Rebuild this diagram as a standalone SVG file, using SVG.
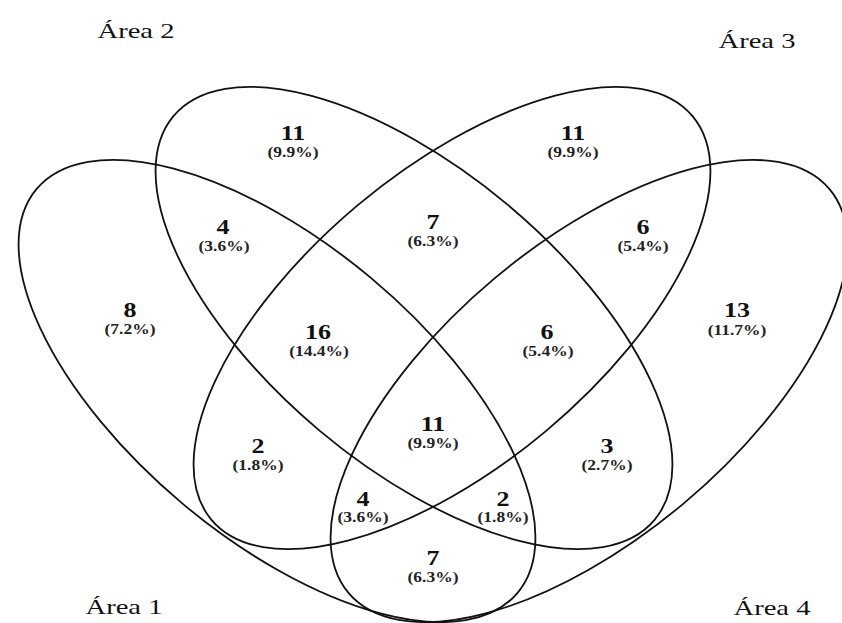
<svg xmlns="http://www.w3.org/2000/svg" width="842" height="623" viewBox="0 0 842 623">
<style>
.e{fill:none;stroke:#111;stroke-width:1.8}
.n{font-family:"Liberation Serif","Times New Roman",serif;font-weight:bold;font-size:20px;text-anchor:middle;fill:#111}
.p{font-family:"Liberation Serif","Times New Roman",serif;font-weight:bold;font-size:14px;text-anchor:middle;fill:#222}
.t{font-family:"Liberation Serif","Times New Roman",serif;font-size:22px;text-anchor:middle;fill:#111}
</style>
<rect width="842" height="623" fill="#fff"/>
<g id="area1">
<ellipse class="e" cx="0" cy="0" rx="314" ry="147" transform="translate(277,391) rotate(40)"/>
<text class="t" transform="translate(124,614) scale(1.3,1)">Área 1</text>
</g>
<g id="area2">
<ellipse class="e" cx="0" cy="0" rx="314" ry="147" transform="translate(414,318) rotate(40)"/>
<text class="t" transform="translate(136,38) scale(1.3,1)">Área 2</text>
</g>
<g id="area3">
<ellipse class="e" cx="0" cy="0" rx="314" ry="147" transform="translate(452,318) rotate(-40)"/>
<text class="t" transform="translate(757,48) scale(1.3,1)">Área 3</text>
</g>
<g id="area4">
<ellipse class="e" cx="0" cy="0" rx="314" ry="147" transform="translate(589,391) rotate(-40)"/>
<text class="t" transform="translate(772,615) scale(1.3,1)">Área 4</text>
</g>
<g id="regions">
<g id="r1"><text class="n" transform="translate(130,317) scale(1.3,1)">8</text><text class="p" transform="translate(130,334) scale(1.25,1)">(7.2%)</text></g>
<g id="r2"><text class="n" transform="translate(293,140) scale(1.3,1)">11</text><text class="p" transform="translate(293,157) scale(1.25,1)">(9.9%)</text></g>
<g id="r3"><text class="n" transform="translate(573,140) scale(1.3,1)">11</text><text class="p" transform="translate(573,157) scale(1.25,1)">(9.9%)</text></g>
<g id="r4"><text class="n" transform="translate(737,317) scale(1.3,1)">13</text><text class="p" transform="translate(737,335) scale(1.25,1)">(11.7%)</text></g>
<g id="r12"><text class="n" transform="translate(223,234) scale(1.3,1)">4</text><text class="p" transform="translate(224,251) scale(1.25,1)">(3.6%)</text></g>
<g id="r23"><text class="n" transform="translate(433,229) scale(1.3,1)">7</text><text class="p" transform="translate(433,246) scale(1.25,1)">(6.3%)</text></g>
<g id="r34"><text class="n" transform="translate(643,234) scale(1.3,1)">6</text><text class="p" transform="translate(643,251) scale(1.25,1)">(5.4%)</text></g>
<g id="r123"><text class="n" transform="translate(318,339) scale(1.3,1)">16</text><text class="p" transform="translate(319,356) scale(1.25,1)">(14.4%)</text></g>
<g id="r234"><text class="n" transform="translate(547,339) scale(1.3,1)">6</text><text class="p" transform="translate(548,356) scale(1.25,1)">(5.4%)</text></g>
<g id="r13"><text class="n" transform="translate(258,453) scale(1.3,1)">2</text><text class="p" transform="translate(258,470) scale(1.25,1)">(1.8%)</text></g>
<g id="r1234"><text class="n" transform="translate(433,431) scale(1.3,1)">11</text><text class="p" transform="translate(433,448) scale(1.25,1)">(9.9%)</text></g>
<g id="r24"><text class="n" transform="translate(607,453) scale(1.3,1)">3</text><text class="p" transform="translate(607,470) scale(1.25,1)">(2.7%)</text></g>
<g id="r134"><text class="n" transform="translate(363,506) scale(1.3,1)">4</text><text class="p" transform="translate(363,522) scale(1.25,1)">(3.6%)</text></g>
<g id="r124"><text class="n" transform="translate(503,506) scale(1.3,1)">2</text><text class="p" transform="translate(503,522) scale(1.25,1)">(1.8%)</text></g>
<g id="r14"><text class="n" transform="translate(433,565) scale(1.3,1)">7</text><text class="p" transform="translate(433,582) scale(1.25,1)">(6.3%)</text></g>
</g>
</svg>
